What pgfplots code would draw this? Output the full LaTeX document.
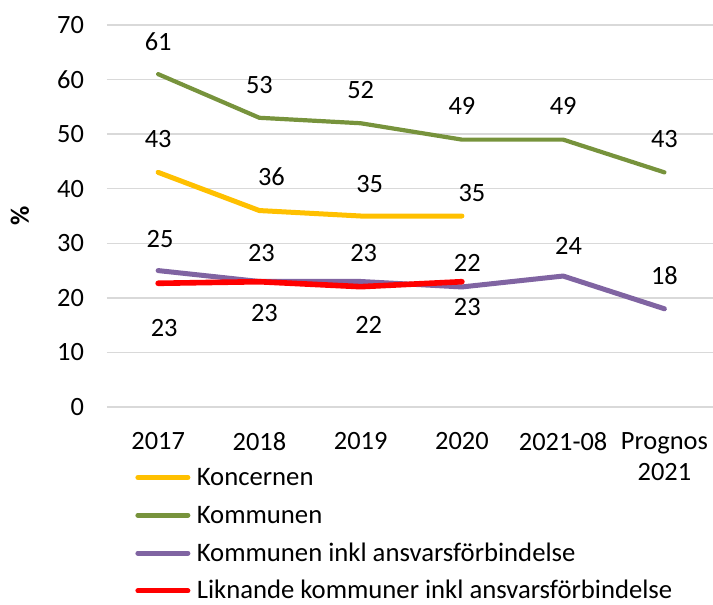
\documentclass[border=0pt]{standalone}
\usepackage{fontspec}
\setmainfont{Carlito}
\usepackage{pgfplots}
\usepackage{pgfplotstable}
\pgfplotsset{compat=1.18}
\definecolor{cYellow}{HTML}{FFC000}
\definecolor{cGreen}{HTML}{77933C}
\definecolor{cPurple}{HTML}{8064A2}
\definecolor{cRed}{HTML}{FF0000}
\definecolor{cGrid}{HTML}{D9D9D9}

% x: category index, y: value, dx/dy: label offset in pt
\pgfplotstableread{
x y dx dy
0 43 0 16.7
1 36 6 17
2 35 4.5 16
3 35 5 11.5
}\koncernen
\pgfplotstableread{
x y dx dy
0 61 0 16.4
1 53 0 16.6
2 52 0 16.5
3 49 0 16.7
4 49 0 16.7
5 43 0 16.6
}\kommunen
\pgfplotstableread{
x y dx dy
0 25 1 15.9
1 23 1 14.2
2 23 1.5 14.2
3 22 2.7 11.8
4 24 2.7 15.2
5 18 0 16.8
}\inkl
\pgfplotstableread{
x y dx dy
0 22.67 3 -22.3
1 22.96 2.5 -15.6
2 22.05 4 -19
3 22.96 2.7 -12.9
}\liknande

\newcommand{\cfont}{\fontsize{13.2}{15.5}\selectfont}
\newcommand{\lfont}{\fontsize{13.35}{15.5}\selectfont}

\pgfplotsset{
  lbl/.style={
    nodes near coords,
    nodes near coords style={font=\cfont, text=black},
    visualization depends on={\thisrow{dx} \as \ldx},
    visualization depends on={\thisrow{dy} \as \ldy},
    every node near coord/.append style={anchor=center, xshift=\ldx*1pt, yshift=\ldy*1pt},
  }
}

\begin{document}
\begin{tikzpicture}
\useasboundingbox (-53.5pt,-99pt) rectangle (303pt,203.5pt);
\begin{axis}[
  at={(0,0)}, anchor=south west,
  scale only axis, width=303pt, height=191pt,
  xmin=-0.505, xmax=5.48, ymin=0, ymax=70,
  axis line style={draw=none},
  major tick length=0pt,
  ymajorgrids, grid style={draw=cGrid, line width=0.7pt},
  xtick={0,...,5},
  xticklabels={2017,2018,2019,2020,2021-08,{Prognos\\2021}},
  ytick={0,10,...,70},
  /pgf/number format/assume math mode=true,
  /pgf/number format/.cd, fixed, precision=0, /pgfplots/.cd,
  tick label style={font=\cfont},
  xticklabel style={align=center, anchor=north, yshift=-9pt},
  yticklabel style={anchor=east, xshift=-8pt},
  ylabel={\%},
  ylabel style={font=\bfseries\cfont, at={(axis description cs:-0.1436,0.5)}, anchor=center},
  clip=false,
  legend style={at={(axis description cs:0.0462,-0.152)}, anchor=north west,
    draw=none, fill=none, font=\lfont, inner sep=0pt, row sep=6.9pt,
    nodes={inner sep=1pt, text height=9pt, text depth=1pt}},
  legend cell align=left,
  legend image code/.code={\draw[#1, line width=2.5pt] (1.25pt,0pt) -- (26.25pt,0pt); \path (28.3pt,0pt);},
]
\addplot[cYellow, line width=2.5pt, line cap=round, line join=round, lbl] table[x=x,y=y] {\koncernen};
\addlegendentry{Koncernen}
\addplot[cGreen, line width=2.1pt, line cap=round, line join=round, lbl] table[x=x,y=y] {\kommunen};
\addlegendentry{Kommunen}
\addplot[cPurple, line width=2.5pt, line cap=round, line join=round, lbl] table[x=x,y=y] {\inkl};
\addlegendentry{Kommunen inkl ansvarsförbindelse}
\addplot[cRed, line width=2.8pt, line cap=round, line join=round, lbl] table[x=x,y=y] {\liknande};
\addlegendentry{Liknande kommuner inkl ansvarsförbindelse}
\end{axis}
\end{tikzpicture}
\end{document}
